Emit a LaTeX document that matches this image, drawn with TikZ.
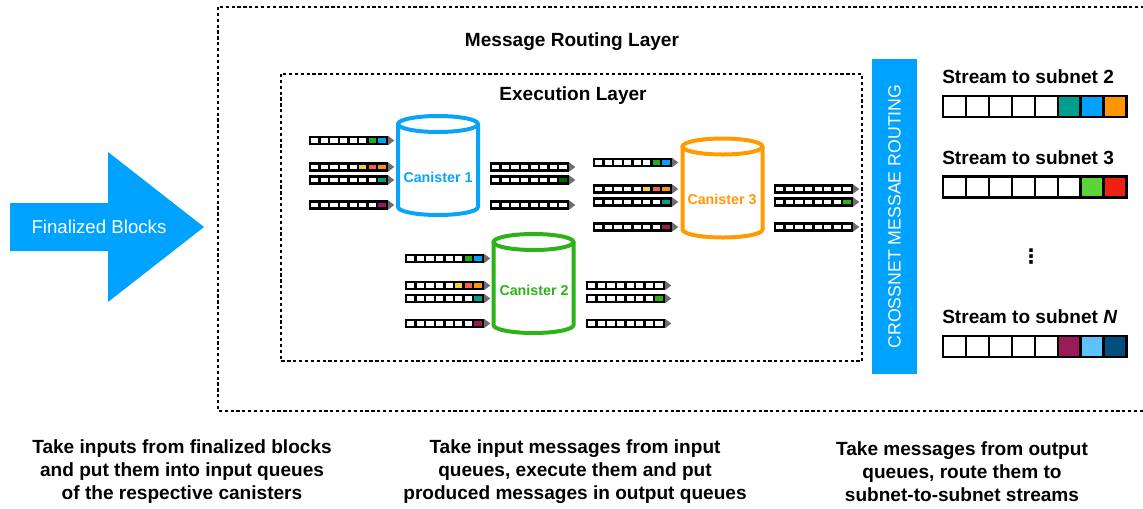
\documentclass[tikz,border=0pt]{standalone}
\usepackage{fontspec}
\setmainfont{Liberation Sans}
\newfontfamily\symfont{DejaVu Sans}

\definecolor{finblue}{HTML}{00A2FF}
\definecolor{canblue}{HTML}{0AA3F8}
\definecolor{cangreen}{HTML}{2DB317}
\definecolor{canorange}{HTML}{FF9A00}
\definecolor{tipgrey}{HTML}{6E6E6E}
\definecolor{mgreen}{HTML}{22AA22}
\definecolor{mdkgreen}{HTML}{006400}
\definecolor{mblue}{HTML}{00A2FF}
\definecolor{myellow}{HTML}{F5D33A}
\definecolor{msalmon}{HTML}{F26350}
\definecolor{morange}{HTML}{FF9500}
\definecolor{mteal}{HTML}{009E8F}
\definecolor{mmaroon}{HTML}{9B1B5A}
\definecolor{slime}{HTML}{5BD43A}
\definecolor{sred}{HTML}{EE2211}
\definecolor{sltblue}{HTML}{5BC2FB}
\definecolor{sdkblue}{HTML}{00507F}

% one row of 8 cells: style, name, start, fills of cells 6-8
\newcommand{\cellrow}[6]{%
  \path (#3) node[#1](#2-1){}
  (#2-1.east) node[#1](#2-2){}
  (#2-2.east) node[#1](#2-3){}
  (#2-3.east) node[#1](#2-4){}
  (#2-4.east) node[#1](#2-5){}
  (#2-5.east) node[#1,fill=#4](#2-6){}
  (#2-6.east) node[#1,fill=#5](#2-7){}
  (#2-7.east) node[#1,fill=#6](#2-8){};
}
% message queue with its grey tip
\newcommand{\msgqueue}[5]{%
  \cellrow{qcell}{#1}{#2}{#3}{#4}{#5}
  \fill[qtip] ([xshift=1pt]#1-8.east) -- ++(0,3.5pt) -- ++(4.6pt,-3.5pt) -- ++(-4.6pt,-3.5pt) -- cycle;
}

\begin{document}
\begin{tikzpicture}[x=0.75pt, y=-0.75pt,
    qcell/.style={draw, line width=1.8pt, fill=white, minimum width=7.2pt, minimum height=5.3pt, inner sep=0pt, outer sep=0pt, anchor=west},
    scell/.style={draw, line width=1.7pt, fill=white, minimum width=17.2pt, minimum height=15.7pt, inner sep=0pt, outer sep=0pt, anchor=west},
    qtip/.style={fill=tipgrey},
    layerbox/.style={draw, line width=1.1pt, dash pattern=on 2.4pt off 2pt},
    canister/.style={line width=3pt},
    canlabel/.style={font=\bfseries\fontsize{10.7}{12}\selectfont},
    layertitle/.style={font=\bfseries\fontsize{14.3}{17}\selectfont},
    streamlabel/.style={font=\bfseries\fontsize{14.3}{17}\selectfont, anchor=west, inner sep=0pt},
    note/.style={font=\bfseries\fontsize{14.3}{17.25}\selectfont, align=center},
    arrowtext/.style={font=\fontsize{14}{16}\selectfont, text=white},
    routebar/.style={fill=finblue, text=white, minimum width=236pt, minimum height=33.75pt, inner sep=0pt, font=\fontsize{13.3}{15}\selectfont}
  ]
  \useasboundingbox (0,0) rectangle (1143,508);

  % layers
  \draw[layerbox] (218,7) rectangle (1160,411);
  \draw[layerbox] (281,74) rectangle (862,361);
  \node[layertitle] (mrl) at (572,42) {Message Routing Layer};
  \node[layertitle] (exl) at (573,96) {Execution Layer};

  % finalized blocks arrow
  \fill[finblue] (10,203) -- (108,203) -- (108,152) -- (204,227) -- (108,302) -- (108,251) -- (10,251) -- cycle;
  \node[arrowtext] (fin) at (99,227) {Finalized Blocks};

  % canister 1
  \draw[canister, canblue] (398,124) -- (398,207) arc[start angle=180, end angle=0, x radius=40, y radius=8] -- (478,124);
  \draw[canister, canblue] (438,124) ellipse [x radius=40, y radius=8];
  \node[canlabel, text=canblue] (can1) at (438,177) {Canister 1};
  \msgqueue{c1i1}{310,140.5}{white}{mgreen}{mblue}
  \msgqueue{c1i2}{310,167}{myellow}{msalmon}{morange}
  \msgqueue{c1i3}{310,180}{white}{white}{mteal}
  \msgqueue{c1i4}{310,205}{white}{white}{mmaroon}
  \msgqueue{c1o1}{491,167}{white}{white}{white}
  \msgqueue{c1o2}{491,180}{white}{white}{mdkgreen}
  \msgqueue{c1o3}{491,205}{white}{white}{white}

  % canister 2
  \draw[canister, cangreen] (493.5,242) -- (493.5,325) arc[start angle=180, end angle=0, x radius=40, y radius=8] -- (573.5,242);
  \draw[canister, cangreen] (533.5,242) ellipse [x radius=40, y radius=8];
  \node[canlabel, text=cangreen] (can2) at (534,290) {Canister 2};
  \msgqueue{c2i1}{406,258.5}{white}{mgreen}{mblue}
  \msgqueue{c2i2}{406,285.5}{myellow}{msalmon}{morange}
  \msgqueue{c2i3}{406,298.5}{white}{white}{mteal}
  \msgqueue{c2i4}{406,323.5}{white}{white}{mmaroon}
  \msgqueue{c2o1}{587,285.5}{white}{white}{white}
  \msgqueue{c2o2}{587,298.5}{white}{white}{cangreen}
  \msgqueue{c2o3}{587,323.5}{white}{white}{white}

  % canister 3
  \draw[canister, canorange] (682.5,146.5) -- (682.5,229.5) arc[start angle=180, end angle=0, x radius=40, y radius=8] -- (762.5,146.5);
  \draw[canister, canorange] (722.5,146.5) ellipse [x radius=40, y radius=8];
  \node[canlabel, text=canorange] (can3) at (722,199) {Canister 3};
  \msgqueue{c3i1}{594,162.5}{white}{mgreen}{mblue}
  \msgqueue{c3i2}{594,189}{myellow}{msalmon}{morange}
  \msgqueue{c3i3}{594,202}{white}{white}{mteal}
  \msgqueue{c3i4}{594,227}{white}{white}{mmaroon}
  \msgqueue{c3o1}{775,189}{white}{white}{white}
  \msgqueue{c3o2}{775,202}{white}{white}{cangreen}
  \msgqueue{c3o3}{775,227}{white}{white}{white}

  % crossnet routing
  \node[routebar, rotate=90] (route) at (894.5,216.5) {CROSSNET MESSAE ROUTING};

  % streams
  \node[streamlabel] (s2lab) at (942,77) {Stream to subnet 2};
  \cellrow{scell}{s2}{943,106.5}{mteal}{mblue}{morange}
  \node[streamlabel] (s3lab) at (942,158) {Stream to subnet 3};
  \cellrow{scell}{s3}{943,187}{white}{slime}{sred}
  \node[font=\symfont\bfseries\fontsize{15}{17}\selectfont, inner sep=0pt] (dots) at (1031,257) {⋮};
  \node[streamlabel] (snlab) at (942,317) {Stream to subnet \textit{N}};
  \cellrow{scell}{sn}{943,346.5}{mmaroon}{sltblue}{sdkblue}

  % notes
  \node[note] (n1) at (182,472) {Take inputs from finalized blocks\\and put them into input queues\\of the respective canisters};
  \node[note] (n2) at (575,472) {Take input messages from input\\queues, execute them and put\\produced messages in output queues};
  \node[note] (n3) at (962,472) {Take messages from output\\queues, route them to\\subnet-to-subnet streams};
\end{tikzpicture}
\end{document}
